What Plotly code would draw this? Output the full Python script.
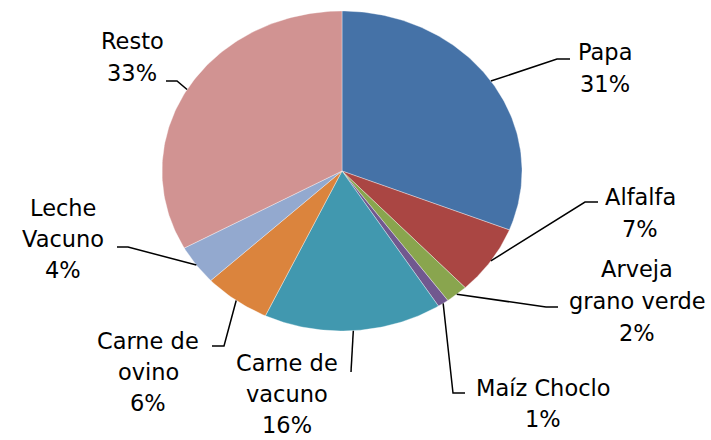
import numpy as np
import plotly.graph_objects as go

# ---- data ----
categories = ["Papa", "Alfalfa", "Arveja grano verde", "Maíz Choclo",
              "Carne de vacuno", "Carne de ovino", "Leche Vacuno", "Resto"]
values = [31, 7, 2, 1, 16, 6, 4, 33]
label_lines = [["Papa"], ["Alfalfa"], ["Arveja", "grano verde"], ["Maíz Choclo"],
               ["Carne de", "vacuno"], ["Carne de", "ovino"], ["Leche", "Vacuno"], ["Resto"]]

# ---- style / layout (pixels) ----
colors = ["#4572A7", "#AA4643", "#89A54E", "#71588F",
          "#4198AF", "#DB843D", "#93A9CF", "#D19392"]
CX, CY, RX, RY = 342, 171, 180, 160
W, H = 711, 440
FONT = dict(family="DejaVu Sans", size=22.5, color="#000000")
LINE_GAP = 32
# label centre x, first line centre y, line gap, leader elbow, leader end
label_pos = [
    (605, 52, 32, (557, 59), (570, 59)),
    (640, 197, 32, (585, 202), (598, 202)),
    (637, 269, 32, (546, 307), (558, 307)),
    (543, 388, 31, (453, 393), (465, 393)),
    (287, 363, 31, (351, 372), (351, 372)),
    (148, 341, 31, (224, 346), (212, 346)),
    (63, 208, 31, (128, 247), (117, 247)),
    (132, 41, 32, (177, 81), (166, 81)),
]

total = sum(values)
frac = np.array(values, dtype=float) / total
ends = np.cumsum(frac)
starts = ends - frac


def pt(f, rx=RX, ry=RY):
    a = 2 * np.pi * f
    return CX + rx * np.sin(a), CY - ry * np.cos(a)


fig = go.Figure()
for i, cat in enumerate(categories):
    t = np.linspace(starts[i], ends[i], max(4, int(400 * frac[i])))
    xs, ys = pt(t)
    fig.add_trace(go.Scatter(
        x=np.concatenate([[CX], xs, [CX]]), y=np.concatenate([[CY], ys, [CY]]),
        mode="lines", fill="toself", fillcolor=colors[i],
        line=dict(color="rgba(255,255,255,0.6)", width=0.6),
        name=cat, hoverinfo="name", showlegend=False))

for i, cat in enumerate(categories):
    cx, y0, gap, elbow, end = label_pos[i]
    mx, my = pt((starts[i] + ends[i]) / 2)
    fig.add_trace(go.Scatter(
        x=[mx, elbow[0], end[0]], y=[my, elbow[1], end[1]], mode="lines",
        line=dict(color="#000000", width=1.5), hoverinfo="skip", showlegend=False))
    pct = f"{round(values[i] / total * 100)}%"
    for k, txt in enumerate(label_lines[i] + [pct]):
        fig.add_annotation(x=cx, y=y0 + k * gap, text=txt, showarrow=False,
                           xanchor="center", yanchor="middle", font=FONT)

fig.update_layout(
    width=W, height=H, margin=dict(l=0, r=0, t=0, b=0),
    paper_bgcolor="white", plot_bgcolor="white",
    xaxis=dict(range=[0, W], visible=False, fixedrange=True),
    yaxis=dict(range=[H, 0], visible=False, fixedrange=True),
)
fig.write_html("out.html", config={"displayModeBar": False},
               post_script="document.body.style.margin='0px';document.body.style.overflow='hidden';")
